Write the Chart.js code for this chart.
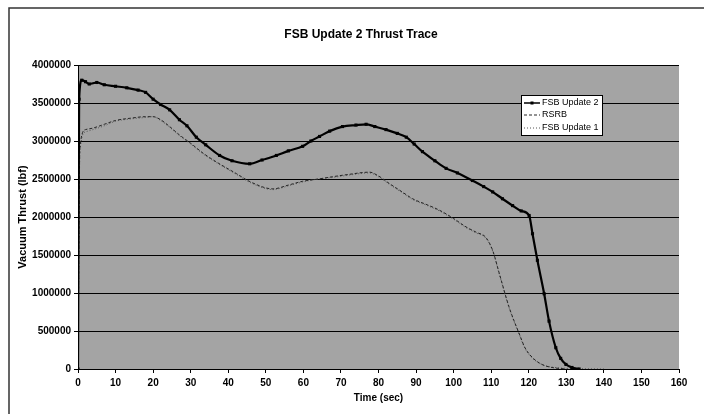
<!DOCTYPE html>
<html>
<head>
<meta charset="utf-8">
<title>FSB Update 2 Thrust Trace</title>
<script src="https://cdn.jsdelivr.net/npm/chart.js@4.4.0/dist/chart.umd.min.js"></script>
<style>
  html, body { margin: 0; padding: 0; background: #fff; }
  #wrap { width: 704px; height: 414px; }
</style>
</head>
<body>
<div id="wrap"><canvas id="thrustChart" width="704" height="414"></canvas></div>
<script>
// values (time in sec, thrust in lbf)
const fsb2Time = [0, 0.3, 1, 2, 3, 5, 7, 10, 13, 16, 18, 20, 22, 24.4, 27, 29, 31.5, 34, 37.7, 41, 45.7, 49, 52.8, 56, 59.8, 62, 64.3, 67, 70.4, 74, 76.7, 79, 82, 85, 87.4, 89.5, 91.7, 95, 98, 101, 105, 108, 110.4, 113, 115.7, 118, 120.1, 121, 122.3, 124.1, 125.4, 127.2, 128.5, 129.9, 131.5, 133.4];
const fsb2Thrust = [0, 3550000, 3800000, 3780000, 3750000, 3770000, 3740000, 3720000, 3700000, 3670000, 3640000, 3550000, 3480000, 3410000, 3280000, 3200000, 3050000, 2950000, 2810000, 2740000, 2700000, 2750000, 2810000, 2870000, 2930000, 3000000, 3060000, 3130000, 3190000, 3210000, 3220000, 3190000, 3150000, 3100000, 3050000, 2960000, 2860000, 2740000, 2640000, 2580000, 2480000, 2400000, 2330000, 2240000, 2150000, 2080000, 2020000, 1780000, 1430000, 990000, 630000, 280000, 140000, 60000, 20000, 0];

const rsrbTime = [0, 0.5, 2, 4, 7, 10, 14, 18, 20, 22, 24.4, 27, 30, 33.3, 37, 42.2, 46, 51.9, 56, 59.8, 64, 67.8, 72, 77.6, 80, 82.9, 86, 89.1, 93, 96.2, 100, 103.3, 106, 108.6, 110.4, 112.2, 114.8, 117.5, 119, 121, 123.5, 126.2, 130];
const rsrbThrust = [0, 2900000, 3150000, 3170000, 3220000, 3270000, 3300000, 3320000, 3320000, 3280000, 3190000, 3080000, 2970000, 2840000, 2720000, 2570000, 2460000, 2370000, 2420000, 2470000, 2500000, 2530000, 2560000, 2590000, 2540000, 2440000, 2340000, 2240000, 2160000, 2090000, 1980000, 1870000, 1800000, 1730000, 1560000, 1250000, 810000, 460000, 280000, 150000, 60000, 20000, 0];

const fsb1Time = [0, 0.5, 2, 4, 7, 10, 14, 18, 20, 22, 24.4, 27, 30, 33.3, 37, 42.2, 46, 51.9, 56, 59.8, 64, 67.8, 72, 77.6, 80, 82.9, 86, 89.1, 93, 96.2, 100, 103.3, 106, 108.6, 110.4, 112.2, 114.8, 117.5, 119, 121, 124, 128, 133, 140];
const fsb1Thrust = [0, 2850000, 3120000, 3150000, 3200000, 3260000, 3290000, 3310000, 3320000, 3270000, 3180000, 3070000, 2960000, 2830000, 2710000, 2560000, 2450000, 2360000, 2410000, 2460000, 2500000, 2520000, 2550000, 2580000, 2530000, 2430000, 2330000, 2230000, 2150000, 2080000, 1970000, 1860000, 1790000, 1720000, 1550000, 1240000, 800000, 450000, 270000, 140000, 50000, 15000, 5000, 0];

const seriesNames = ['FSB Update 2', 'RSRB', 'FSB Update 1'];

const xMin = 0, xMax = 160, xStep = 10;
const yMin = 0, yMax = 4000000, yStep = 500000;

function toPoints(times, values) {
  return times.map((t, i) => ({ x: t, y: values[i] }));
}

const fontFamily = "'Liberation Sans', Arial, sans-serif";

// page frame, grey plot fill and legend box
const framePlugin = {
  id: 'frame',
  afterLayout(chart) {
    // title in the scan sits a bit left of the plot centre
    chart.titleBlock.left = 43;
    chart.titleBlock.right = 679;
  },
  beforeDraw(chart) {
    const ctx = chart.ctx;
    const a = chart.chartArea;
    ctx.save();
    ctx.fillStyle = '#ffffff';
    ctx.fillRect(0, 0, chart.width, chart.height);
    ctx.fillStyle = '#a4a4a4';
    ctx.fillRect(a.left, a.top, a.right - a.left, a.bottom - a.top);
    ctx.strokeStyle = '#333333';
    ctx.lineWidth = 1.5;
    ctx.beginPath();
    ctx.moveTo(9, chart.height);
    ctx.lineTo(9, 8);
    ctx.lineTo(chart.width, 8);
    ctx.stroke();
    ctx.restore();
  },
  afterDatasetsDraw(chart) {
    const ctx = chart.ctx;
    const bx = 521, by = 95, bw = 81, bh = 40;
    ctx.save();
    ctx.fillStyle = '#ffffff';
    ctx.fillRect(bx, by, bw, bh);
    ctx.strokeStyle = '#000000';
    ctx.lineWidth = 1;
    ctx.strokeRect(bx + 0.5, by + 0.5, bw, bh);
    ctx.font = '9px ' + fontFamily;
    ctx.textBaseline = 'middle';
    const rows = [103, 115, 128];
    chart.data.datasets.forEach((ds, i) => {
      const y = rows[i];
      ctx.strokeStyle = ds.borderColor;
      ctx.lineWidth = i === 0 ? 1.5 : 1;
      ctx.setLineDash(ds.borderDash || []);
      ctx.beginPath();
      ctx.moveTo(bx + 3, y);
      ctx.lineTo(bx + 19, y);
      ctx.stroke();
      ctx.setLineDash([]);
      if (i === 0) {
        ctx.fillStyle = '#000000';
        ctx.fillRect(bx + 9.5, y - 1.5, 3, 3);
      }
      ctx.fillStyle = '#000000';
      ctx.fillText(ds.label, bx + 21, y);
    });
    ctx.restore();
  }
};

new Chart(document.getElementById('thrustChart'), {
  type: 'line',
  data: {
    datasets: [
      {
        label: seriesNames[0],
        data: toPoints(fsb2Time, fsb2Thrust),
        borderColor: '#000000',
        backgroundColor: '#000000',
        borderWidth: 2.2,
        pointStyle: 'rect',
        pointRadius: 2.2,
        pointBorderWidth: 0,
        cubicInterpolationMode: 'monotone'
      },
      {
        label: seriesNames[1],
        data: toPoints(rsrbTime, rsrbThrust),
        borderColor: '#262626',
        borderWidth: 1,
        borderDash: [3, 2],
        pointRadius: 0,
        cubicInterpolationMode: 'monotone'
      },
      {
        label: seriesNames[2],
        data: toPoints(fsb1Time, fsb1Thrust),
        borderColor: '#555555',
        borderWidth: 1,
        borderDash: [1, 2],
        pointRadius: 0,
        cubicInterpolationMode: 'monotone'
      }
    ]
  },
  options: {
    responsive: false,
    animation: false,
    layout: { padding: { left: 0, right: 25, top: 0, bottom: 0 } },
    plugins: {
      legend: { display: false },
      tooltip: { enabled: false },
      title: {
        display: true,
        text: 'FSB Update 2 Thrust Trace',
        color: '#000000',
        font: { family: fontFamily, size: 12, weight: 'bold', lineHeight: 1.2 },
        padding: { top: 27, bottom: 23.6 }
      }
    },
    scales: {
      x: {
        type: 'linear',
        min: xMin,
        max: xMax,
        afterFit(scale) { scale.height = 45; },
        ticks: {
          stepSize: xStep,
          color: '#000000',
          padding: 4,
          maxRotation: 0,
          font: { family: fontFamily, size: 10, weight: 'bold' }
        },
        grid: { drawOnChartArea: false, drawTicks: true, tickLength: 4, color: '#000000' },
        border: { display: true, color: '#000000', width: 1 },
        title: {
          display: true,
          text: 'Time (sec)',
          color: '#000000',
          font: { family: fontFamily, size: 10, weight: 'bold', lineHeight: 1.2 },
          padding: { top: 0, bottom: 10 }
        }
      },
      y: {
        min: yMin,
        max: yMax,
        afterFit(scale) { scale.width = 78; },
        ticks: {
          stepSize: yStep,
          color: '#000000',
          padding: 3,
          font: { family: fontFamily, size: 10, weight: 'bold' },
          callback: v => String(v)
        },
        grid: { color: '#000000', lineWidth: 1, drawTicks: true, tickLength: 4 },
        border: { display: true, color: '#000000', width: 1 },
        title: {
          display: true,
          text: 'Vacuum Thrust (lbf)',
          color: '#000000',
          font: { family: fontFamily, size: 11, weight: 'bold', lineHeight: 1.2 },
          padding: { top: 16, bottom: 0 }
        }
      }
    }
  },
  plugins: [framePlugin]
});
</script>
</body>
</html>
